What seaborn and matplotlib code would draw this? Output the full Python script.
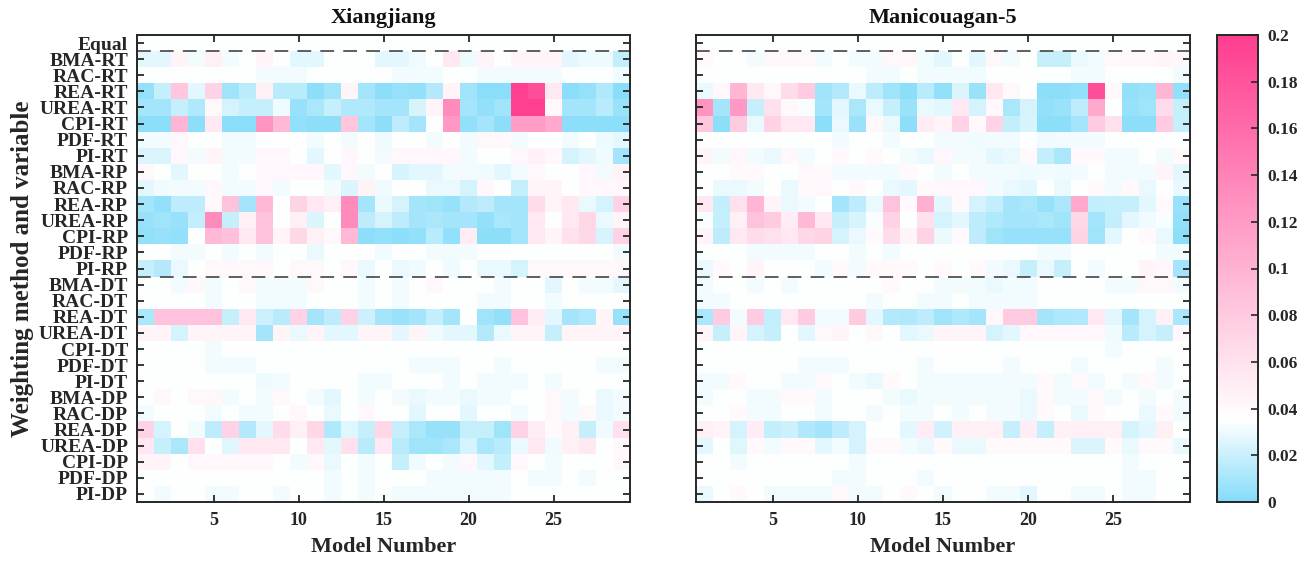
import numpy as np
import pandas as pd
import matplotlib
matplotlib.use("Agg")
import matplotlib.pyplot as plt
import seaborn as sns
from matplotlib.colors import LinearSegmentedColormap

# ---------------- data ----------------
methods = ["Equal", "BMA-RT", "RAC-RT", "REA-RT", "UREA-RT", "CPI-RT", "PDF-RT", "PI-RT",
           "BMA-RP", "RAC-RP", "REA-RP", "UREA-RP", "CPI-RP", "PDF-RP", "PI-RP",
           "BMA-DT", "RAC-DT", "REA-DT", "UREA-DT", "CPI-DT", "PDF-DT", "PI-DT",
           "BMA-DP", "RAC-DP", "REA-DP", "UREA-DP", "CPI-DP", "PDF-DP", "PI-DP"]
models = list(range(1, 30))
xtick_models = [5, 10, 15, 20, 25]
panel_titles = ["Xiangjiang", "Manicouagan-5"]
cbar_ticks = [0, 0.02, 0.04, 0.06, 0.08, 0.1, 0.12, 0.14, 0.16, 0.18, 0.2]

xiangjiang = [
    [0.0345, 0.0345, 0.0345, 0.0345, 0.0345, 0.0345, 0.0345, 0.0345, 0.0345, 0.0345, 0.0345, 0.0345, 0.0345, 0.0345, 0.0345, 0.0345, 0.0345, 0.0345, 0.0345, 0.0345, 0.0345, 0.0345, 0.0345, 0.0345, 0.0345, 0.0345, 0.0345, 0.0345, 0.0345],
    [0.028, 0.028, 0.045, 0.032, 0.048, 0.032, 0.035, 0.043, 0.035, 0.027, 0.027, 0.035, 0.035, 0.035, 0.028, 0.028, 0.031, 0.035, 0.055, 0.030, 0.043, 0.035, 0.043, 0.043, 0.043, 0.027, 0.030, 0.030, 0.018],
    [0.035, 0.035, 0.035, 0.035, 0.035, 0.035, 0.035, 0.032, 0.032, 0.032, 0.035, 0.035, 0.035, 0.035, 0.035, 0.032, 0.032, 0.032, 0.035, 0.035, 0.032, 0.032, 0.032, 0.032, 0.032, 0.035, 0.035, 0.035, 0.032],
    [0.005, 0.019, 0.083, 0.027, 0.072, 0.008, 0.016, 0.048, 0.015, 0.015, 0.003, 0.008, 0.045, 0.010, 0.003, 0.006, 0.004, 0.014, 0.045, 0.008, 0.002, 0.002, 0.197, 0.186, 0.055, 0.002, 0.005, 0.013, 0.002],
    [0.010, 0.010, 0.019, 0.013, 0.041, 0.023, 0.019, 0.019, 0.031, 0.006, 0.011, 0.019, 0.013, 0.013, 0.010, 0.010, 0.024, 0.044, 0.133, 0.010, 0.004, 0.008, 0.197, 0.197, 0.041, 0.010, 0.010, 0.015, 0.007],
    [0.003, 0.003, 0.098, 0.003, 0.055, 0.002, 0.002, 0.126, 0.094, 0.004, 0.003, 0.003, 0.083, 0.010, 0.003, 0.017, 0.010, 0.035, 0.122, 0.004, 0.010, 0.003, 0.118, 0.118, 0.108, 0.003, 0.003, 0.003, 0.003],
    [0.032, 0.032, 0.042, 0.035, 0.035, 0.032, 0.032, 0.035, 0.035, 0.035, 0.032, 0.035, 0.032, 0.035, 0.031, 0.035, 0.035, 0.032, 0.035, 0.032, 0.041, 0.041, 0.032, 0.035, 0.035, 0.032, 0.035, 0.030, 0.027],
    [0.025, 0.025, 0.042, 0.032, 0.043, 0.032, 0.032, 0.042, 0.042, 0.035, 0.027, 0.035, 0.042, 0.035, 0.032, 0.042, 0.042, 0.042, 0.042, 0.032, 0.035, 0.035, 0.042, 0.047, 0.042, 0.023, 0.027, 0.031, 0.010],
    [0.041, 0.035, 0.027, 0.035, 0.035, 0.032, 0.035, 0.042, 0.042, 0.042, 0.042, 0.027, 0.042, 0.032, 0.035, 0.024, 0.027, 0.027, 0.032, 0.032, 0.031, 0.027, 0.032, 0.042, 0.035, 0.035, 0.042, 0.032, 0.046],
    [0.028, 0.031, 0.032, 0.032, 0.042, 0.032, 0.032, 0.042, 0.032, 0.035, 0.035, 0.032, 0.025, 0.046, 0.031, 0.035, 0.035, 0.029, 0.029, 0.023, 0.042, 0.035, 0.019, 0.044, 0.044, 0.035, 0.042, 0.042, 0.042],
    [0.010, 0.004, 0.017, 0.017, 0.041, 0.087, 0.010, 0.094, 0.035, 0.072, 0.055, 0.048, 0.133, 0.010, 0.029, 0.023, 0.010, 0.008, 0.006, 0.014, 0.017, 0.010, 0.010, 0.065, 0.045, 0.055, 0.029, 0.023, 0.072],
    [0.006, 0.008, 0.006, 0.018, 0.133, 0.019, 0.048, 0.087, 0.035, 0.048, 0.025, 0.035, 0.133, 0.017, 0.023, 0.017, 0.010, 0.011, 0.010, 0.010, 0.004, 0.011, 0.010, 0.055, 0.035, 0.055, 0.068, 0.029, 0.045],
    [0.004, 0.006, 0.004, 0.035, 0.094, 0.089, 0.055, 0.087, 0.043, 0.068, 0.048, 0.041, 0.094, 0.003, 0.004, 0.003, 0.004, 0.015, 0.004, 0.051, 0.003, 0.003, 0.010, 0.055, 0.044, 0.061, 0.068, 0.024, 0.072],
    [0.035, 0.035, 0.032, 0.032, 0.035, 0.032, 0.035, 0.032, 0.035, 0.035, 0.029, 0.035, 0.035, 0.035, 0.032, 0.035, 0.035, 0.032, 0.032, 0.032, 0.035, 0.035, 0.035, 0.035, 0.035, 0.035, 0.035, 0.035, 0.032],
    [0.019, 0.014, 0.029, 0.035, 0.041, 0.041, 0.041, 0.041, 0.035, 0.041, 0.041, 0.035, 0.041, 0.029, 0.035, 0.029, 0.031, 0.035, 0.031, 0.035, 0.029, 0.029, 0.023, 0.041, 0.041, 0.041, 0.041, 0.041, 0.041],
    [0.035, 0.035, 0.032, 0.041, 0.032, 0.035, 0.041, 0.032, 0.032, 0.032, 0.041, 0.035, 0.035, 0.032, 0.035, 0.032, 0.035, 0.042, 0.035, 0.035, 0.035, 0.032, 0.035, 0.035, 0.028, 0.035, 0.032, 0.032, 0.028],
    [0.035, 0.035, 0.035, 0.035, 0.032, 0.035, 0.035, 0.032, 0.032, 0.032, 0.035, 0.035, 0.035, 0.032, 0.035, 0.032, 0.035, 0.035, 0.035, 0.035, 0.032, 0.032, 0.035, 0.035, 0.032, 0.035, 0.035, 0.035, 0.035],
    [0.011, 0.087, 0.087, 0.087, 0.087, 0.019, 0.055, 0.021, 0.015, 0.072, 0.010, 0.017, 0.072, 0.021, 0.010, 0.007, 0.010, 0.018, 0.010, 0.035, 0.008, 0.004, 0.087, 0.051, 0.028, 0.010, 0.013, 0.045, 0.006],
    [0.044, 0.044, 0.023, 0.044, 0.044, 0.044, 0.044, 0.010, 0.044, 0.029, 0.044, 0.027, 0.027, 0.044, 0.044, 0.028, 0.044, 0.031, 0.027, 0.027, 0.014, 0.029, 0.044, 0.044, 0.019, 0.044, 0.044, 0.044, 0.044],
    [0.035, 0.035, 0.035, 0.035, 0.032, 0.035, 0.035, 0.035, 0.035, 0.035, 0.035, 0.035, 0.035, 0.035, 0.035, 0.035, 0.035, 0.035, 0.035, 0.035, 0.035, 0.035, 0.035, 0.035, 0.035, 0.035, 0.035, 0.035, 0.035],
    [0.035, 0.035, 0.035, 0.035, 0.032, 0.032, 0.032, 0.035, 0.035, 0.035, 0.035, 0.035, 0.035, 0.035, 0.035, 0.035, 0.032, 0.032, 0.032, 0.035, 0.035, 0.032, 0.035, 0.035, 0.035, 0.035, 0.035, 0.032, 0.032],
    [0.035, 0.035, 0.035, 0.035, 0.035, 0.035, 0.035, 0.030, 0.032, 0.035, 0.035, 0.035, 0.035, 0.032, 0.032, 0.035, 0.035, 0.035, 0.032, 0.035, 0.032, 0.032, 0.032, 0.035, 0.032, 0.035, 0.035, 0.035, 0.035],
    [0.035, 0.041, 0.035, 0.041, 0.041, 0.032, 0.035, 0.032, 0.041, 0.035, 0.032, 0.027, 0.035, 0.032, 0.035, 0.032, 0.029, 0.032, 0.032, 0.029, 0.032, 0.032, 0.035, 0.035, 0.041, 0.032, 0.035, 0.029, 0.032],
    [0.032, 0.035, 0.035, 0.035, 0.032, 0.035, 0.032, 0.032, 0.035, 0.042, 0.035, 0.029, 0.035, 0.042, 0.035, 0.035, 0.027, 0.035, 0.035, 0.027, 0.035, 0.035, 0.032, 0.035, 0.041, 0.032, 0.041, 0.029, 0.032],
    [0.072, 0.023, 0.035, 0.032, 0.017, 0.072, 0.014, 0.028, 0.065, 0.048, 0.068, 0.013, 0.026, 0.019, 0.068, 0.019, 0.011, 0.006, 0.006, 0.019, 0.019, 0.008, 0.072, 0.051, 0.040, 0.048, 0.019, 0.031, 0.061],
    [0.055, 0.019, 0.011, 0.061, 0.035, 0.026, 0.055, 0.055, 0.055, 0.035, 0.055, 0.027, 0.061, 0.015, 0.055, 0.015, 0.008, 0.008, 0.011, 0.023, 0.011, 0.015, 0.029, 0.055, 0.031, 0.048, 0.055, 0.035, 0.041],
    [0.043, 0.043, 0.035, 0.042, 0.042, 0.042, 0.042, 0.042, 0.035, 0.032, 0.042, 0.029, 0.035, 0.032, 0.035, 0.019, 0.031, 0.035, 0.032, 0.041, 0.027, 0.018, 0.042, 0.035, 0.032, 0.035, 0.035, 0.035, 0.042],
    [0.035, 0.035, 0.035, 0.035, 0.035, 0.035, 0.035, 0.035, 0.035, 0.035, 0.035, 0.032, 0.035, 0.032, 0.035, 0.035, 0.035, 0.032, 0.032, 0.032, 0.032, 0.032, 0.035, 0.032, 0.032, 0.035, 0.032, 0.035, 0.035],
    [0.035, 0.032, 0.035, 0.035, 0.032, 0.032, 0.035, 0.035, 0.032, 0.035, 0.035, 0.032, 0.035, 0.032, 0.035, 0.032, 0.032, 0.032, 0.032, 0.032, 0.032, 0.032, 0.035, 0.035, 0.035, 0.035, 0.035, 0.035, 0.035],
]

manicouagan = [
    [0.0345, 0.0345, 0.0345, 0.0345, 0.0345, 0.0345, 0.0345, 0.0345, 0.0345, 0.0345, 0.0345, 0.0345, 0.0345, 0.0345, 0.0345, 0.0345, 0.0345, 0.0345, 0.0345, 0.0345, 0.0345, 0.0345, 0.0345, 0.0345, 0.0345, 0.0345, 0.0345, 0.0345, 0.0345],
    [0.040, 0.035, 0.035, 0.032, 0.041, 0.041, 0.041, 0.032, 0.035, 0.032, 0.032, 0.041, 0.041, 0.032, 0.027, 0.035, 0.027, 0.041, 0.032, 0.035, 0.019, 0.019, 0.029, 0.032, 0.041, 0.041, 0.041, 0.044, 0.041],
    [0.035, 0.035, 0.035, 0.035, 0.035, 0.035, 0.035, 0.035, 0.035, 0.035, 0.032, 0.032, 0.035, 0.032, 0.032, 0.032, 0.032, 0.035, 0.035, 0.035, 0.035, 0.035, 0.032, 0.032, 0.035, 0.035, 0.035, 0.035, 0.032],
    [0.029, 0.041, 0.098, 0.055, 0.041, 0.065, 0.079, 0.008, 0.014, 0.029, 0.017, 0.008, 0.003, 0.015, 0.004, 0.025, 0.007, 0.055, 0.041, 0.035, 0.003, 0.003, 0.004, 0.186, 0.041, 0.004, 0.007, 0.098, 0.004],
    [0.126, 0.010, 0.122, 0.019, 0.061, 0.041, 0.033, 0.010, 0.027, 0.011, 0.029, 0.019, 0.007, 0.029, 0.027, 0.055, 0.023, 0.042, 0.011, 0.023, 0.004, 0.007, 0.017, 0.108, 0.035, 0.006, 0.008, 0.065, 0.019],
    [0.083, 0.003, 0.079, 0.029, 0.073, 0.055, 0.055, 0.003, 0.029, 0.007, 0.041, 0.029, 0.003, 0.051, 0.045, 0.073, 0.041, 0.072, 0.018, 0.024, 0.003, 0.003, 0.010, 0.079, 0.061, 0.003, 0.003, 0.079, 0.019],
    [0.035, 0.035, 0.035, 0.035, 0.035, 0.035, 0.035, 0.035, 0.032, 0.035, 0.035, 0.032, 0.035, 0.035, 0.032, 0.032, 0.031, 0.032, 0.032, 0.035, 0.031, 0.032, 0.032, 0.032, 0.035, 0.035, 0.035, 0.035, 0.035],
    [0.045, 0.032, 0.042, 0.032, 0.029, 0.042, 0.032, 0.035, 0.040, 0.035, 0.040, 0.035, 0.032, 0.029, 0.042, 0.032, 0.032, 0.027, 0.029, 0.040, 0.018, 0.011, 0.040, 0.040, 0.032, 0.032, 0.035, 0.032, 0.040],
    [0.035, 0.035, 0.040, 0.040, 0.035, 0.035, 0.042, 0.040, 0.032, 0.032, 0.032, 0.032, 0.040, 0.035, 0.032, 0.035, 0.032, 0.032, 0.032, 0.031, 0.032, 0.031, 0.032, 0.035, 0.032, 0.032, 0.032, 0.045, 0.027],
    [0.035, 0.029, 0.029, 0.032, 0.035, 0.029, 0.040, 0.042, 0.035, 0.040, 0.035, 0.029, 0.027, 0.040, 0.042, 0.042, 0.042, 0.032, 0.029, 0.027, 0.035, 0.029, 0.035, 0.040, 0.032, 0.040, 0.029, 0.035, 0.029],
    [0.055, 0.018, 0.061, 0.098, 0.045, 0.029, 0.032, 0.035, 0.010, 0.017, 0.029, 0.087, 0.040, 0.102, 0.027, 0.040, 0.023, 0.018, 0.010, 0.011, 0.006, 0.011, 0.108, 0.018, 0.019, 0.019, 0.027, 0.040, 0.007],
    [0.033, 0.019, 0.048, 0.087, 0.079, 0.051, 0.094, 0.055, 0.019, 0.024, 0.033, 0.073, 0.035, 0.061, 0.023, 0.028, 0.017, 0.013, 0.010, 0.010, 0.011, 0.008, 0.068, 0.010, 0.018, 0.028, 0.031, 0.033, 0.004],
    [0.045, 0.017, 0.055, 0.065, 0.061, 0.055, 0.068, 0.072, 0.023, 0.029, 0.040, 0.065, 0.045, 0.072, 0.029, 0.040, 0.017, 0.008, 0.006, 0.006, 0.006, 0.006, 0.072, 0.008, 0.027, 0.035, 0.040, 0.029, 0.003],
    [0.035, 0.035, 0.035, 0.032, 0.032, 0.032, 0.032, 0.035, 0.035, 0.032, 0.035, 0.032, 0.035, 0.035, 0.035, 0.035, 0.035, 0.035, 0.035, 0.035, 0.032, 0.032, 0.035, 0.035, 0.035, 0.035, 0.035, 0.032, 0.032],
    [0.029, 0.040, 0.035, 0.045, 0.035, 0.035, 0.035, 0.032, 0.040, 0.032, 0.040, 0.040, 0.040, 0.035, 0.040, 0.035, 0.040, 0.032, 0.029, 0.019, 0.029, 0.019, 0.035, 0.032, 0.035, 0.035, 0.045, 0.042, 0.010],
    [0.032, 0.035, 0.035, 0.032, 0.035, 0.032, 0.035, 0.035, 0.035, 0.035, 0.035, 0.040, 0.035, 0.035, 0.032, 0.032, 0.032, 0.029, 0.032, 0.032, 0.035, 0.035, 0.035, 0.035, 0.032, 0.032, 0.041, 0.041, 0.032],
    [0.032, 0.032, 0.035, 0.035, 0.035, 0.035, 0.035, 0.035, 0.035, 0.035, 0.032, 0.035, 0.035, 0.032, 0.032, 0.035, 0.032, 0.032, 0.032, 0.032, 0.035, 0.035, 0.035, 0.035, 0.035, 0.035, 0.035, 0.035, 0.035],
    [0.011, 0.079, 0.032, 0.079, 0.018, 0.055, 0.079, 0.032, 0.032, 0.079, 0.027, 0.014, 0.013, 0.017, 0.008, 0.012, 0.010, 0.041, 0.079, 0.079, 0.010, 0.012, 0.013, 0.055, 0.027, 0.010, 0.023, 0.048, 0.011],
    [0.044, 0.019, 0.045, 0.023, 0.019, 0.035, 0.027, 0.041, 0.043, 0.035, 0.041, 0.035, 0.027, 0.029, 0.043, 0.043, 0.043, 0.023, 0.027, 0.042, 0.042, 0.042, 0.042, 0.042, 0.031, 0.015, 0.023, 0.019, 0.042],
    [0.035, 0.035, 0.035, 0.035, 0.035, 0.035, 0.035, 0.035, 0.035, 0.035, 0.035, 0.035, 0.035, 0.035, 0.035, 0.035, 0.035, 0.035, 0.035, 0.035, 0.035, 0.035, 0.035, 0.035, 0.032, 0.035, 0.035, 0.035, 0.035],
    [0.035, 0.035, 0.035, 0.035, 0.035, 0.035, 0.032, 0.032, 0.032, 0.035, 0.035, 0.035, 0.035, 0.032, 0.035, 0.035, 0.035, 0.035, 0.032, 0.035, 0.035, 0.035, 0.032, 0.035, 0.035, 0.035, 0.035, 0.032, 0.035],
    [0.032, 0.032, 0.040, 0.035, 0.035, 0.032, 0.032, 0.040, 0.035, 0.032, 0.029, 0.040, 0.035, 0.032, 0.032, 0.032, 0.032, 0.032, 0.032, 0.032, 0.040, 0.032, 0.040, 0.032, 0.035, 0.032, 0.040, 0.032, 0.035],
    [0.032, 0.035, 0.035, 0.032, 0.032, 0.040, 0.040, 0.032, 0.035, 0.035, 0.035, 0.032, 0.029, 0.032, 0.032, 0.032, 0.032, 0.032, 0.032, 0.029, 0.040, 0.032, 0.032, 0.040, 0.032, 0.035, 0.032, 0.035, 0.032],
    [0.035, 0.035, 0.040, 0.032, 0.032, 0.035, 0.035, 0.032, 0.035, 0.035, 0.032, 0.035, 0.032, 0.032, 0.035, 0.032, 0.035, 0.032, 0.032, 0.029, 0.040, 0.035, 0.029, 0.040, 0.035, 0.035, 0.029, 0.040, 0.032],
    [0.048, 0.044, 0.023, 0.051, 0.018, 0.021, 0.013, 0.010, 0.017, 0.023, 0.035, 0.035, 0.027, 0.051, 0.022, 0.048, 0.048, 0.048, 0.019, 0.051, 0.019, 0.048, 0.048, 0.048, 0.048, 0.023, 0.027, 0.048, 0.035],
    [0.027, 0.035, 0.026, 0.040, 0.032, 0.040, 0.040, 0.027, 0.032, 0.023, 0.040, 0.040, 0.032, 0.029, 0.040, 0.029, 0.029, 0.040, 0.040, 0.040, 0.040, 0.040, 0.025, 0.025, 0.040, 0.029, 0.040, 0.040, 0.029],
    [0.035, 0.035, 0.032, 0.035, 0.035, 0.035, 0.035, 0.035, 0.035, 0.032, 0.035, 0.035, 0.035, 0.035, 0.035, 0.035, 0.035, 0.035, 0.035, 0.035, 0.035, 0.035, 0.035, 0.035, 0.035, 0.032, 0.035, 0.035, 0.035],
    [0.035, 0.035, 0.035, 0.035, 0.035, 0.035, 0.035, 0.035, 0.032, 0.032, 0.035, 0.035, 0.035, 0.032, 0.035, 0.035, 0.035, 0.035, 0.035, 0.035, 0.035, 0.035, 0.035, 0.035, 0.035, 0.032, 0.032, 0.035, 0.035],
    [0.029, 0.035, 0.040, 0.035, 0.032, 0.032, 0.032, 0.032, 0.040, 0.032, 0.032, 0.035, 0.040, 0.035, 0.032, 0.035, 0.035, 0.032, 0.032, 0.027, 0.035, 0.035, 0.032, 0.032, 0.035, 0.032, 0.032, 0.035, 0.035],
]

# ---------------- style ----------------
sns.set_theme(style="white")
plt.rcParams["font.family"] = ["Liberation Serif", "DejaVu Serif"]
plt.rcParams["font.weight"] = "bold"
plt.rcParams["axes.labelweight"] = "bold"
plt.rcParams["axes.axisbelow"] = False

W, H = 1312, 564
fig = plt.figure(figsize=(W / 100, H / 100), dpi=100)
fig.patch.set_facecolor("white")

def fx(px):
    return px / W

def fy(px):
    return 1 - px / H

top_px, bot_px = 35, 502
ax1 = fig.add_axes([fx(137), fy(bot_px), fx(630) - fx(137), (bot_px - top_px) / H])
ax2 = fig.add_axes([fx(696), fy(bot_px), fx(1190) - fx(696), (bot_px - top_px) / H])
cax = fig.add_axes([fx(1217), fy(bot_px), fx(1258) - fx(1217), (bot_px - top_px) / H])

cmap = LinearSegmentedColormap.from_list(
    "cyan_white_pink",
    [(0.0, "#84dcf9"), (0.035 / 0.2, "#ffffff"), (1.0, "#ff3d8f")], N=256)

spine_col = "#262626"
mappable = None
for i, (ax, data, title) in enumerate(zip([ax1, ax2], [xiangjiang, manicouagan], panel_titles)):
    df = pd.DataFrame(data, index=methods, columns=models)
    sns.heatmap(df, ax=ax, cmap=cmap, vmin=0, vmax=0.2, cbar=False,
                xticklabels=False, yticklabels=False)
    ax.set_axisbelow(False)
    mappable = ax.collections[0]
    ax.set_xlabel("")
    ax.set_ylabel("")
    xt = [models.index(m) + 0.5 for m in xtick_models]
    ax.set_xticks(xt)
    ax.set_xticklabels([str(m) for m in xtick_models], fontsize=13, fontweight="bold",
                       color="#262626")
    ax.set_yticks(np.arange(len(methods)) + 0.5)
    if i == 0:
        ax.set_yticklabels(methods, fontsize=14, fontweight="bold", color="#262626")
    else:
        ax.set_yticklabels([])
    ax.tick_params(axis="both", which="both", direction="in", length=5, width=1.3,
                   color=spine_col, top=True, right=True, bottom=True, left=True,
                   labelbottom=True, labeltop=False, labelright=False)
    ax.tick_params(axis="x", pad=7)
    ax.tick_params(axis="y", pad=6.5)
    for s in ax.spines.values():
        s.set_visible(True)
        s.set_color(spine_col)
        s.set_linewidth(1.4)
        s.set_zorder(5)
    for yline in (1, 15):
        ax.axhline(yline, color="#333333", lw=1.1, ls=(0, (9, 6)), zorder=4)
    cx = (ax.get_position().x0 + ax.get_position().x1) / 2
    fig.text(cx, fy(18), title, ha="center", va="center", fontsize=16,
             fontweight="bold", color="#111111")
    fig.text(cx, fy(547), "Model Number", ha="center", va="center", fontsize=16,
             fontweight="bold", color="#262626")

fig.text(fx(23), fy((top_px + bot_px) / 2), "Weighting method and variable",
         rotation=90, ha="center", va="center", fontsize=18, fontweight="bold",
         color="#262626")

cb = fig.colorbar(mappable, cax=cax)
cax.set_axisbelow(False)
cb.set_ticks(cbar_ticks)
cb.set_ticklabels([f"{t:g}" for t in cbar_ticks])
cb.outline.set_edgecolor(spine_col)
cb.outline.set_linewidth(1.4)
cax.tick_params(direction="in", length=5, width=1.2, color=spine_col, pad=7,
                labelsize=12.5, right=True)
for lab in cax.get_yticklabels():
    lab.set_fontweight("bold")
    lab.set_color("#262626")

fig.savefig("out.png", dpi=100, facecolor="white")
